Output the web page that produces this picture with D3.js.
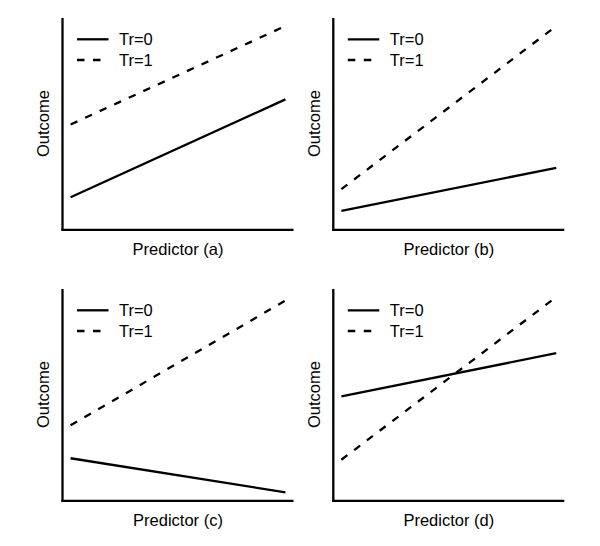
<!DOCTYPE html>
<html>
<head>
<meta charset="utf-8">
<script src="https://cdn.jsdelivr.net/npm/d3@7"></script>
<style>
  html, body { margin: 0; padding: 0; background: #fff; }
  svg { display: block; }
  text { font-family: "Liberation Sans", Arial, Helvetica, sans-serif; fill: #000; }
</style>
</head>
<body>
<svg id="chart" width="600" height="546"></svg>
<script>
// ---- data ----
const panelLabels = ["Predictor (a)", "Predictor (b)", "Predictor (c)", "Predictor (d)"];
const yLabel = "Outcome";
const seriesNames = ["Tr=0", "Tr=1"];
const xEnds = [0.35, 9.65];
const solidValues = [
  [1.52, 6.15],   // (a)
  [0.87, 2.91],   // (b)
  [1.99, 0.38],   // (c)
  [4.92, 6.96]    // (d)
];
const dashedValues = [
  [4.96, 9.62],   // (a)
  [1.90, 9.62],   // (b)
  [3.55, 9.45],   // (c)
  [1.92, 9.62]    // (d)
];

// ---- layout ----
const svg = d3.select("#chart");
const colLeft = [62.5, 333.3];
const plotW = 231;
const rowTop = [18, 289];
const plotH = 211.3;
const fontSize = 16.5;
const sw = 2.3;

panelLabels.forEach((label, i) => {
  const col = i % 2, row = Math.floor(i / 2);
  const x0 = colLeft[col], y0 = rowTop[row];
  const x = d3.scaleLinear().domain([0, 10]).range([x0, x0 + plotW]);
  const y = d3.scaleLinear().domain([0, 10]).range([y0 + plotH, y0]);
  const g = svg.append("g");

  // axes (domain lines only)
  const xAxis = g.append("g")
    .attr("transform", `translate(0,${y0 + plotH})`)
    .call(d3.axisBottom(x).ticks(0).tickSizeOuter(0));
  const yAxis = g.append("g")
    .attr("transform", `translate(${x0},0)`)
    .call(d3.axisLeft(y).ticks(0).tickSizeOuter(0));
  g.selectAll(".domain").attr("stroke", "#000").attr("stroke-width", sw);
  xAxis.select(".domain").attr("d", `M${x0 - 1.15},0.5H${x0 + plotW}`);
  yAxis.select(".domain").attr("d", `M0,${y0}V${y0 + plotH + 1.15}`);

  const line = d3.line().x(d => x(d[0])).y(d => y(d[1]));
  const solid = xEnds.map((xv, k) => [xv, solidValues[i][k]]);
  const dashed = xEnds.map((xv, k) => [xv, dashedValues[i][k]]);

  g.append("path").datum(solid).attr("d", line)
    .attr("fill", "none").attr("stroke", "#000").attr("stroke-width", sw);
  g.append("path").datum(dashed).attr("d", line)
    .attr("fill", "none").attr("stroke", "#000").attr("stroke-width", sw)
    .attr("stroke-dasharray", "7.5,8.5");

  // legend
  const lx = x0 + 14.5, ly = y0 + 21.3, rowGap = 20.7;
  seriesNames.forEach((name, k) => {
    g.append("line")
      .attr("x1", lx).attr("x2", lx + 31.5)
      .attr("y1", ly + k * rowGap).attr("y2", ly + k * rowGap)
      .attr("stroke", "#000").attr("stroke-width", sw)
      .attr("stroke-dasharray", k === 1 ? "7.5,8.5" : null);
    g.append("text")
      .attr("x", lx + 42).attr("y", ly + k * rowGap + 5.5)
      .attr("font-size", fontSize)
      .text(name);
  });

  // x label
  g.append("text")
    .attr("x", x0 + plotW / 2).attr("y", y0 + plotH + 26)
    .attr("text-anchor", "middle")
    .attr("font-size", fontSize)
    .text(label);

  // y label
  g.append("text")
    .attr("transform", `translate(${x0 - 13.5},${y0 + plotH / 2}) rotate(-90)`)
    .attr("text-anchor", "middle")
    .attr("font-size", fontSize)
    .text(yLabel);
});
</script>
</body>
</html>
